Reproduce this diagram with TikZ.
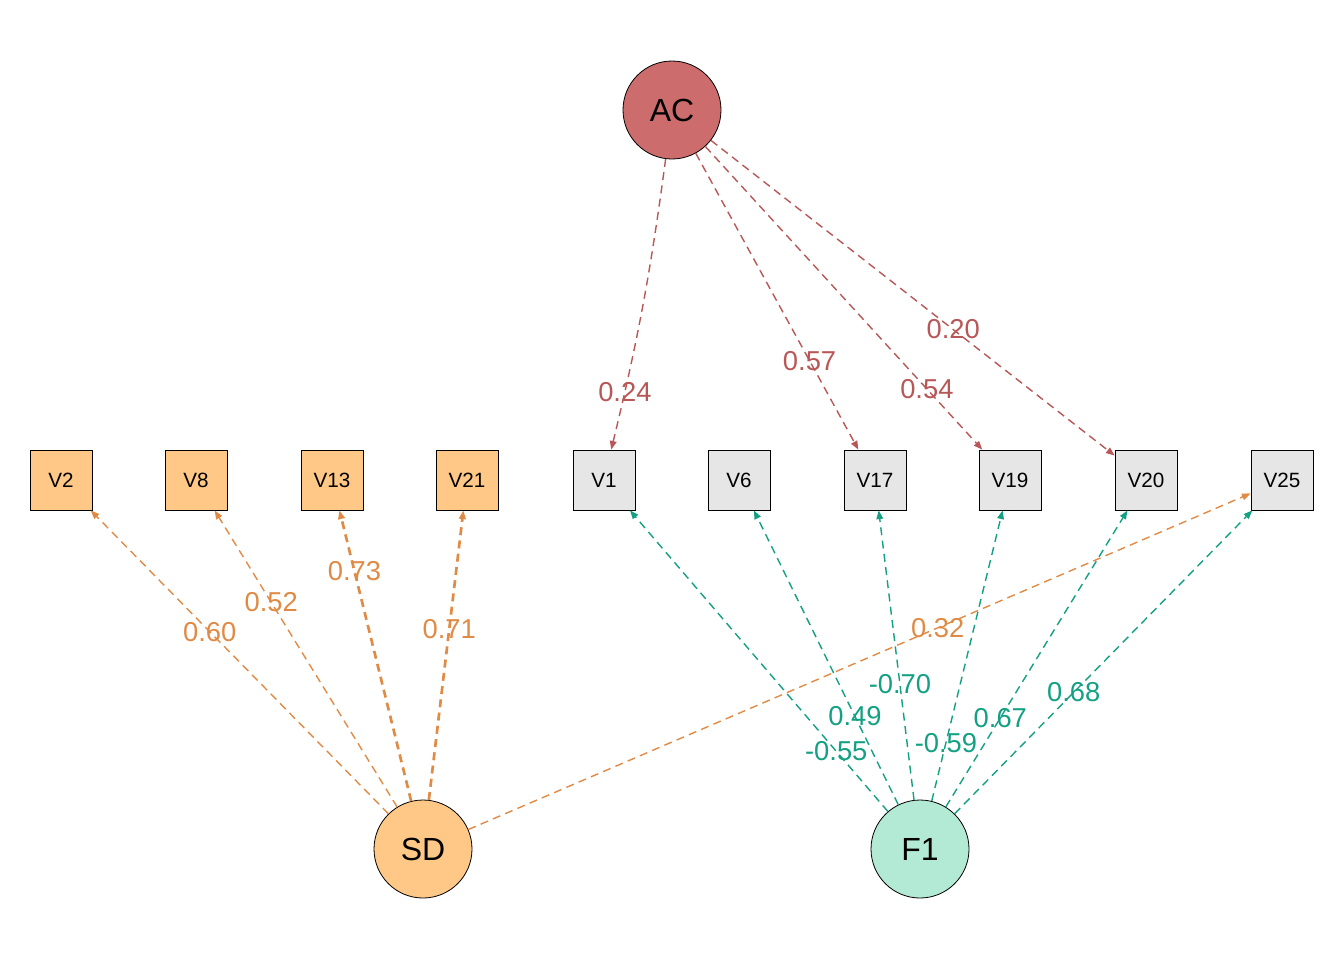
\documentclass[tikz,border=0pt]{standalone}
\usepackage{fontspec}
\setmainfont{Liberation Sans}
\usetikzlibrary{arrows.meta}

\definecolor{acfill}{HTML}{CD6C6C}
\definecolor{acline}{HTML}{B85757}
\definecolor{sdfill}{HTML}{FFC886}
\definecolor{sdline}{HTML}{E08B45}
\definecolor{fonefill}{HTML}{B3EAD5}
\definecolor{foneline}{HTML}{13A083}
\definecolor{manfill}{HTML}{E6E6E6}

\begin{document}
\begin{tikzpicture}[x=0.75pt,y=-0.75pt,
  latent/.style={circle,draw,line width=0.6pt,minimum size=73.5pt,inner sep=0pt,font=\fontsize{24}{24}\selectfont},
  manifest/.style={rectangle,draw,line width=0.6pt,minimum width=46.5pt,minimum height=45pt,inner sep=0pt,font=\fontsize{15.5}{16}\selectfont},
  load/.style={dash pattern=on 6pt off 4pt,line width=1.05pt,-{Triangle[length=6.5pt,width=5pt]}},
  heavy/.style={line width=2pt},
  lab/.style={font=\fontsize{20.5}{21}\selectfont,inner sep=0pt}]
%\draw[step=100,gray,very thin] (0,0) grid (1344,960);
\useasboundingbox (0,0) rectangle (1344,960);

% latent variables
\node[latent,fill=acfill] (AC) at (672,110) {AC};
\node[latent,fill=sdfill] (SD) at (423,849) {SD};
\node[latent,fill=fonefill] (F1) at (920,849) {F1};

% observed variables
\node[manifest,fill=sdfill] (V2) at (61,480) {V2};
\node[manifest,fill=sdfill] (V8) at (196,480) {V8};
\node[manifest,fill=sdfill] (V13) at (332,480) {V13};
\node[manifest,fill=sdfill] (V21) at (467,480) {V21};
\node[manifest,fill=manfill] (V1) at (604,480) {V1};
\node[manifest,fill=manfill] (V6) at (739,480) {V6};
\node[manifest,fill=manfill] (V17) at (875,480) {V17};
\node[manifest,fill=manfill] (V19) at (1010,480) {V19};
\node[manifest,fill=manfill] (V20) at (1146,480) {V20};
\node[manifest,fill=manfill] (V25) at (1282,480) {V25};

% AC loadings
\draw[load,acline] (AC) to[bend left=3] node[lab,pos=0.815] (lAC1) {0.24} (V1);
\draw[load,acline] (AC) -- node[lab,pos=0.7] (lAC17) {0.57} (V17);
\draw[load,acline] (AC) -- node[lab,pos=0.8] (lAC19) {0.54} (V19);
\draw[load,acline] (AC) -- node[lab,pos=0.6] (lAC20) {0.20} (V20);

% SD loadings
\draw[load,sdline] (SD) -- node[lab,pos=0.6] (lSD2) {0.60} (V2);
\draw[load,sdline] (SD) -- node[lab,pos=0.69] (lSD8) {0.52} (V8);
\draw[load,heavy,sdline] (SD) -- node[lab,pos=0.79] (lSD13) {0.73} (V13);
\draw[load,heavy,sdline] (SD) -- node[lab,pos=0.59] (lSD21) {0.71} (V21);
\draw[load,sdline] (SD) -- node[lab,pos=0.6] (lSD25) {0.32} (V25);

% F1 loadings
\draw[load,foneline] (F1) -- node[lab,pos=0.2] (lF1a) {-0.55} (V1);
\draw[load,foneline] (F1) -- node[lab,pos=0.3] (lF6) {0.49} (V6);
\draw[load,foneline] (F1) -- node[lab,pos=0.4] (lF17) {-0.70} (V17);
\draw[load,foneline] (F1) -- node[lab,pos=0.2] (lF19) {-0.59} (V19);
\draw[load,foneline] (F1) -- node[lab,pos=0.3] (lF20) {0.67} (V20);
\draw[load,foneline] (F1) -- node[lab,pos=0.4] (lF25) {0.68} (V25);

\end{tikzpicture}
\end{document}
